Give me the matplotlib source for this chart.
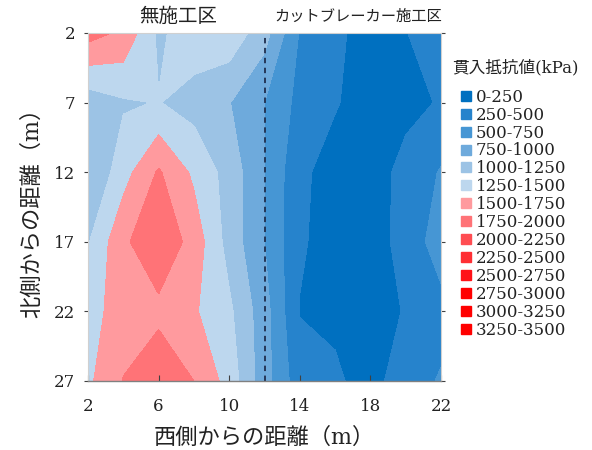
import numpy as np
import matplotlib
matplotlib.use("Agg")
import matplotlib.pyplot as plt
from matplotlib.lines import Line2D

plt.rcParams['font.family'] = ['DejaVu Serif', 'Noto Sans CJK JP', 'DejaVu Sans']

# grid coordinates (m)
x_west = [2, 4, 6, 8, 10, 12, 14, 16, 18, 20, 22]
y_north = [2, 7, 12, 17, 22, 27]

# penetration resistance (kPa), one row per y_north value
row_y2 = [1850, 1700, 1200, 1400, 1420, 1100, 480, 300, 150, 240, 400]
row_y7 = [1100, 1220, 1260, 1150, 1010, 750, 420, 270, 130, 180, 270]
row_y12 = [980, 1400, 1780, 1450, 1150, 750, 300, 150, 130, 330, 520]
row_y17 = [1230, 1700, 1960, 1650, 1150, 750, 280, 150, 120, 350, 620]
row_y22 = [1400, 1620, 1680, 1530, 1300, 850, 240, 200, 120, 270, 420]
row_y27 = [1450, 1760, 1950, 1750, 1400, 850, 350, 290, 150, 400, 520]

levels = [0, 250, 500, 750, 1000, 1250, 1500, 1750, 2000, 2250, 2500, 2750, 3000, 3250, 3500]
range_labels = ["0-250", "250-500", "500-750", "750-1000", "1000-1250", "1250-1500",
                "1500-1750", "1750-2000", "2000-2250", "2250-2500", "2500-2750",
                "2750-3000", "3000-3250", "3250-3500"]
level_colors = ["#0070c0", "#2683cc", "#4696d4", "#6eaadc", "#9cc3e5", "#bdd7ee",
                "#ff9a9e", "#ff7377", "#ff4d52", "#ff2f34", "#ff1218", "#ff0000",
                "#ff0000", "#ff0000"]

x_ticks = [2, 6, 10, 14, 18, 22]
y_ticks = [2, 7, 12, 17, 22, 27]
divider_x = 12

Z = np.array([row_y2, row_y7, row_y12, row_y17, row_y22, row_y27], dtype=float)
X, Y = np.meshgrid(x_west, y_north)

fig = plt.figure(figsize=(5.92, 4.5), dpi=100)
ax = fig.add_axes([88/592, 1-381/450, (441-88)/592, (381-33)/450])
ax.contourf(X, Y, Z, levels=levels, colors=level_colors)
ax.axvline(divider_x, color="#1f2f4f", linestyle=(0, (3, 2.5)), linewidth=1.3)

ax.set_xlim(2, 22)
ax.set_ylim(27, 2)
ax.set_xticks(x_ticks)
ax.set_yticks(y_ticks)
ax.tick_params(axis='x', direction='in', length=4, labelsize=12, pad=12, colors="#404040", labelcolor="#222222")
ax.tick_params(axis='y', direction='out', length=3, labelsize=12, pad=6, right=True, colors="#404040", labelcolor="#222222")
for s in ["top", "left", "right"]:
    ax.spines[s].set_color("#d0d0d0")
    ax.spines[s].set_linewidth(0.8)
ax.spines["bottom"].set_color("#808080")
ax.spines["bottom"].set_linewidth(1.0)

ax.set_xlabel("西側からの距離（m）", fontsize=16, labelpad=9, color="#222222")
ax.set_ylabel("北側からの距離（m）", fontsize=16, labelpad=8, color="#222222")

fig.text(178/592, 1-17/450, "無施工区", ha="center", va="center", fontsize=14, color="#222222")
fig.text(358/592, 1-17/450, "カットブレーカー施工区", ha="center", va="center", fontsize=11, color="#222222")

fig.text(452/592, 1-68/450, "貫入抵抗値(kPa)", ha="left", va="center", fontsize=12, color="#222222")
handles = [Line2D([0], [0], marker="s", linestyle="none", markersize=7,
                  markerfacecolor=c, markeredgecolor=c) for c in level_colors]
leg = fig.legend(handles, range_labels, loc="upper left",
                 bbox_to_anchor=(449/592, 1-77/450), frameon=False, fontsize=12,
                 handlelength=0.6, handletextpad=0.3,
                 labelspacing=0.055, borderpad=0.2)
for t in leg.get_texts():
    t.set_color("#222222")

fig.savefig("out.png", dpi=100)
